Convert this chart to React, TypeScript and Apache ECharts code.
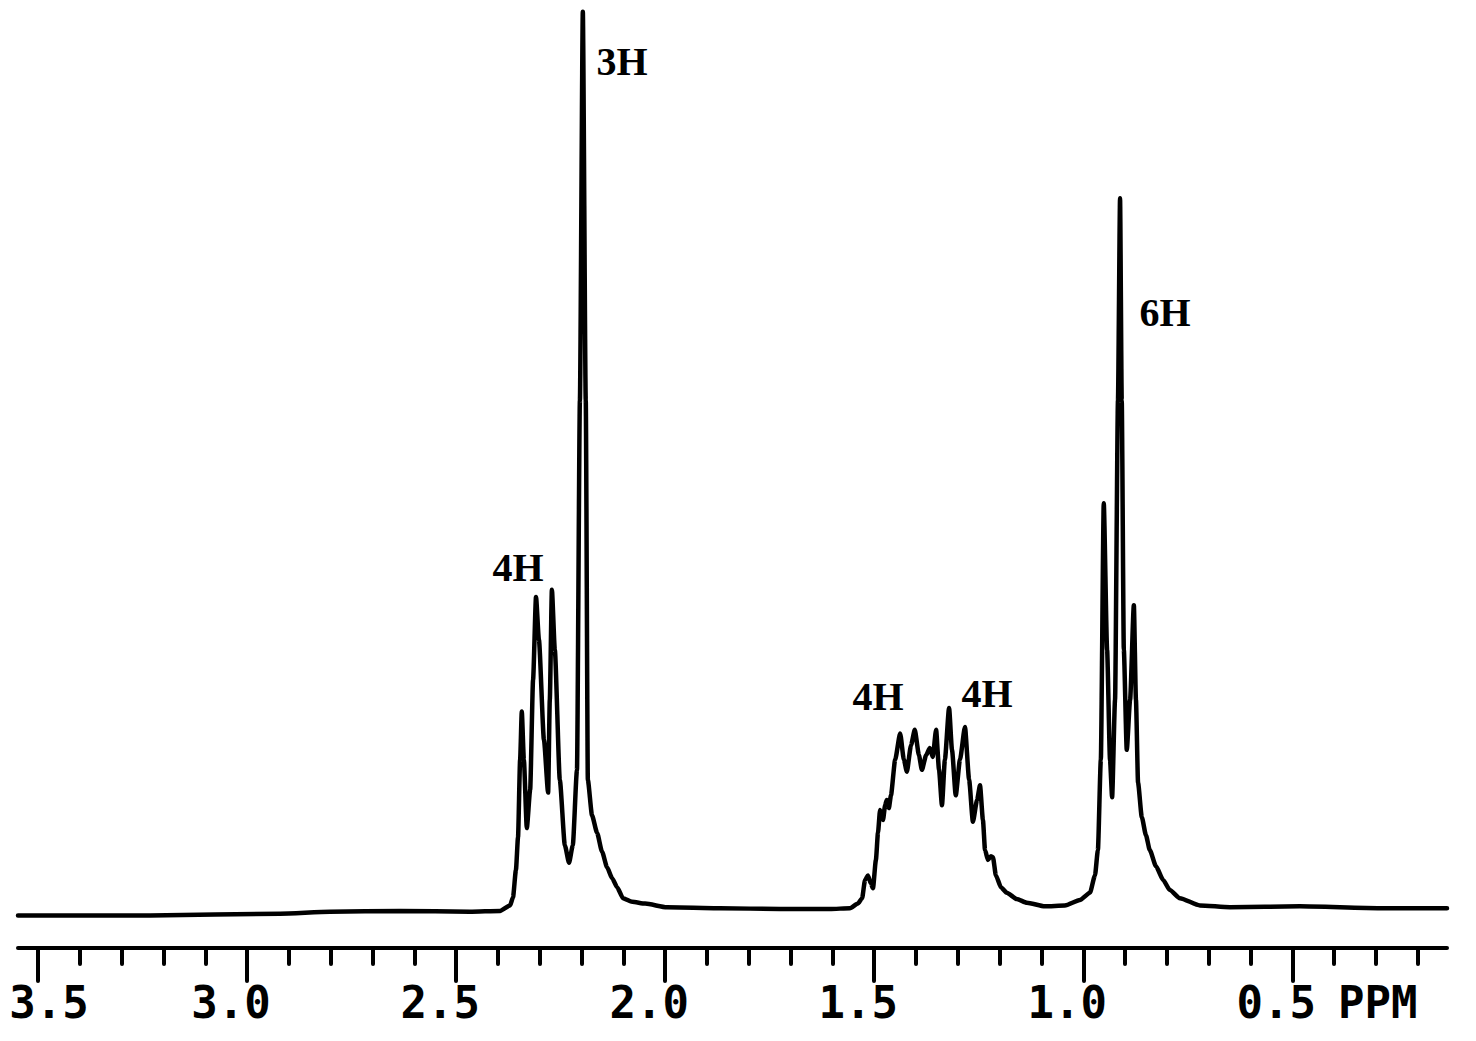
import React, { useEffect, useRef } from "react";
import * as echarts from "echarts";

// chemical shift (ppm) of traced points along the spectrum, left to right
const shiftPpm = [
  3.548, 3.232, 2.921, 2.802, 2.634, 2.467, 2.395, 2.371, 2.364, 2.357,
  2.352, 2.347, 2.343, 2.338, 2.331, 2.323, 2.316, 2.309, 2.302, 2.29,
  2.28, 2.276, 2.271, 2.264, 2.252, 2.24, 2.23, 2.221, 2.211, 2.204,
  2.197, 2.19, 2.185, 2.175, 2.163, 2.151, 2.139, 2.127, 2.115, 2.101,
  2.079, 2.048, 1.996, 1.869, 1.725, 1.606, 1.558, 1.539, 1.529, 1.522,
  1.515, 1.508, 1.503, 1.496, 1.491, 1.486, 1.479, 1.474, 1.47, 1.465,
  1.46, 1.45, 1.438, 1.429, 1.422, 1.412, 1.403, 1.393, 1.386, 1.376,
  1.367, 1.36, 1.352, 1.345, 1.338, 1.331, 1.321, 1.314, 1.305, 1.295,
  1.283, 1.273, 1.264, 1.254, 1.247, 1.24, 1.235, 1.228, 1.221, 1.216,
  1.209, 1.197, 1.183, 1.159, 1.135, 1.092, 1.044, 1.008, 0.984, 0.972,
  0.965, 0.958, 0.951, 0.943, 0.936, 0.931, 0.924, 0.917, 0.912, 0.908,
  0.903, 0.896, 0.888, 0.879, 0.874, 0.869, 0.86, 0.85, 0.841, 0.826,
  0.809, 0.793, 0.769, 0.721, 0.649, 0.482, 0.29, 0.13,
];

// relative intensity (0-100) at those shifts
const intensity = [
  0.5, 0.5, 0.7, 0.9, 1.0, 0.9, 1.0, 1.6, 2.5, 5.5,
  9.1, 17.6, 22.9, 17.6, 10.1, 14.3, 26.4, 35.5, 30.8, 19.8,
  14.0, 24.2, 36.3, 29.7, 15.4, 8.2, 6.3, 8.2, 16.5, 57.1,
  99.8, 57.1, 15.4, 11.5, 9.6, 7.5, 5.8, 4.6, 3.6, 2.4,
  2.0, 1.8, 1.4, 1.3, 1.2, 1.2, 1.3, 1.8, 2.4, 4.4,
  4.9, 4.0, 3.5, 6.6, 9.6, 12.1, 11.0, 12.6, 13.2, 12.3,
  13.7, 17.6, 20.5, 17.6, 16.3, 19.2, 20.9, 18.1, 16.5, 18.1,
  18.9, 17.9, 20.9, 16.5, 12.6, 17.6, 23.3, 18.7, 13.7, 17.6,
  21.2, 15.4, 10.8, 13.2, 14.8, 11.0, 7.7, 6.6, 7.0, 6.9,
  4.9, 3.6, 3.0, 2.3, 1.9, 1.5, 1.6, 2.2, 3.0, 4.9,
  7.7, 17.6, 45.8, 29.7, 17.6, 13.5, 24.2, 57.1, 79.3, 57.1,
  29.7, 18.7, 24.2, 34.6, 24.2, 15.1, 11.3, 9.3, 7.7, 5.9,
  4.4, 3.3, 2.4, 1.6, 1.4, 1.5, 1.3, 1.3,
];

const majorTicks = [3.5, 3.0, 2.5, 2.0, 1.5, 1.0, 0.5];
const majorLabels = ["3.5", "3.0", "2.5", "2.0", "1.5", "1.0", "0.5"];
const minorTicks = [
  3.4, 3.3, 3.2, 3.1, 2.9, 2.8, 2.7, 2.6, 2.4, 2.3, 2.2, 2.1, 1.9, 1.8,
  1.7, 1.6, 1.4, 1.3, 1.2, 1.1, 0.9, 0.8, 0.7, 0.6, 0.4, 0.3, 0.2,
];
const unitLabel = "PPM";
const integrationLabels = ["3H", "4H", "4H", "4H", "6H"];

const AXIS_FONT = '"DejaVu Sans Mono", monospace';
const ANNOT_FONT = 'bold 40px "Liberation Serif", "DejaVu Serif", serif';

export default function App() {
  const ref = useRef<HTMLDivElement>(null);

  useEffect(() => {
    if (!ref.current) return;
    const chart = echarts.init(ref.current, undefined, { renderer: "svg" });
    const n = Math.min(shiftPpm.length, intensity.length);
    const data: [number, number][] = [];
    for (let i = 0; i < n; i++) data.push([shiftPpm[i], intensity[i]]);

    const annotPos = [
      [622, 61],
      [518, 567],
      [878, 696],
      [987, 693],
      [1165, 312],
    ];

    const labelStyle = {
      fontFamily: AXIS_FONT,
      fontSize: 44,
      fontWeight: "bold" as const,
      color: "#000",
    };

    chart.setOption({
      animation: false,
      backgroundColor: "#fff",
      grid: { left: 18, right: 29, top: 10, bottom: 121, containLabel: false },
      xAxis: [
        {
          type: "value",
          min: 0.13,
          max: 3.548,
          inverse: true,
          position: "bottom",
          offset: 28,
          splitLine: { show: false },
          axisLine: {
            show: true,
            onZero: false,
            lineStyle: { color: "#000", width: 4, cap: "round" },
          },
          axisTick: {
            show: true,
            customValues: majorTicks,
            length: 33,
            lineStyle: { color: "#000", width: 4, cap: "round" },
          },
          axisLabel: {
            show: true,
            customValues: majorTicks,
            margin: 32,
            verticalAlign: "top",
            ...labelStyle,
            formatter: (v: number) => {
              const idx = majorTicks.findIndex((t) => Math.abs(t - v) < 1e-6);
              const s = idx >= 0 ? majorLabels[idx] : v.toFixed(1);
              return idx === 0 ? `{first|${s}}` : `{std|${s}}`;
            },
            rich: {
              first: { ...labelStyle, padding: [0, 0, 0, 22] },
              std: { ...labelStyle, padding: [0, 32, 0, 0] },
            },
          },
        },
        {
          type: "value",
          min: 0.13,
          max: 3.548,
          inverse: true,
          position: "bottom",
          offset: 28,
          splitLine: { show: false },
          axisLine: { show: false, onZero: false },
          axisTick: {
            show: true,
            customValues: minorTicks,
            length: 16,
            lineStyle: { color: "#000", width: 4, cap: "round" },
          },
          axisLabel: { show: false },
        },
      ],
      yAxis: {
        type: "value",
        min: 0,
        max: 100,
        show: false,
        splitLine: { show: false },
      },
      series: [
        {
          type: "line",
          xAxisIndex: 0,
          data,
          showSymbol: false,
          symbol: "none",
          smooth: 0.2,
          smoothMonotone: "x",
          clip: false,
          silent: true,
          lineStyle: { color: "#000", width: 4.5, join: "round", cap: "round" },
        },
      ],
      graphic: [
        ...integrationLabels.map((t, i) => ({
          type: "text",
          x: annotPos[i][0],
          y: annotPos[i][1],
          silent: true,
          style: {
            text: t,
            font: ANNOT_FONT,
            fill: "#000",
            align: "center",
            verticalAlign: "middle",
            textAlign: "center",
            textVerticalAlign: "middle",
          },
        })),
        {
          type: "text",
          x: 1338,
          y: 980,
          silent: true,
          style: {
            text: unitLabel,
            font: `bold 44px ${AXIS_FONT}`,
            fill: "#000",
            align: "left",
            verticalAlign: "top",
            textAlign: "left",
            textVerticalAlign: "top",
          },
        },
      ],
    });

    return () => chart.dispose();
  }, []);

  return (
    <div
      ref={ref}
      style={{ position: "absolute", left: 0, top: 0, width: 1476, height: 1041 }}
    />
  );
}
